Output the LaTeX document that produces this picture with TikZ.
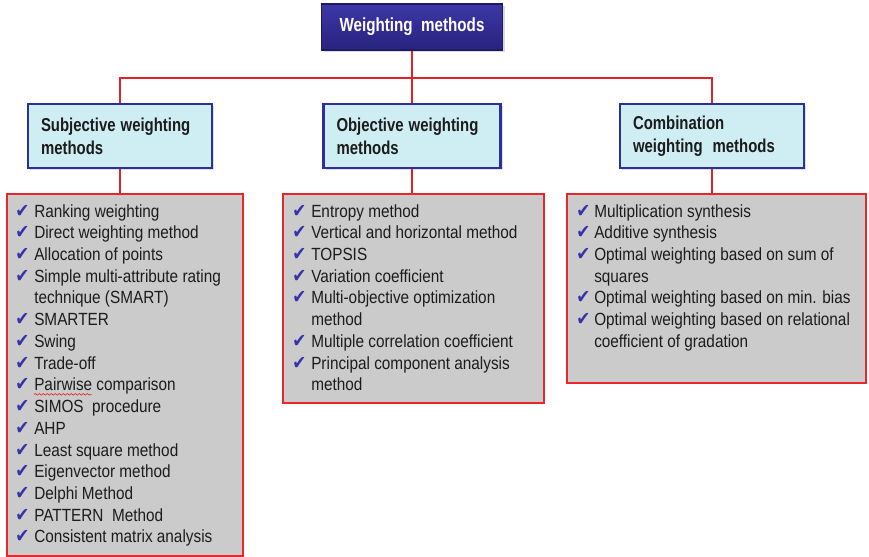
\documentclass[tikz,border=0pt]{standalone}
\usepackage{fontspec}
\usepackage{graphicx}
\setmainfont{Liberation Sans}
\newfontfamily\symfont{DejaVu Sans}
\usetikzlibrary{shadows,decorations.pathmorphing,calc}

\definecolor{titletop}{HTML}{3D37A6}
\definecolor{titlebot}{HTML}{28227F}
\definecolor{titleline}{HTML}{1E1A66}
\definecolor{headfill}{HTML}{CFEEF3}
\definecolor{headline}{HTML}{2C2F9C}
\definecolor{listfill}{HTML}{CBCBCB}
\definecolor{listline}{HTML}{E8262B}
\definecolor{linkred}{HTML}{E32228}
\definecolor{tickblue}{HTML}{3433A8}
\definecolor{bodytext}{HTML}{1C1C1C}

% taller letter shapes for the labels
\newcommand{\tallhead}[1]{\scalebox{1}[1.25]{#1}}
\newcommand{\tallbody}[1]{\scalebox{1}[1.15]{#1}}

\begin{document}
\begin{tikzpicture}[x=0.75pt,y=-0.75pt,
  title/.style={draw=titleline, line width=0.8pt, top color=titletop, bottom color=titlebot,
    text=white, font=\bfseries\fontsize{11.4}{14}\selectfont,
    minimum width=135.75pt, minimum height=34.5pt,
    drop shadow={opacity=0.3, shadow xshift=1.5pt, shadow yshift=-1.5pt}},
  head/.style={draw=headline, line width=2.2pt, fill=headfill, text=bodytext,
    font=\bfseries\fontsize{11.2}{17.25}\selectfont, align=left,
    inner xsep=9.75pt, minimum height=48pt,
    drop shadow={opacity=0.25, shadow xshift=1.5pt, shadow yshift=-1.5pt}},
  listbox/.style={draw=listline, line width=2pt, fill=listfill},
  link/.style={draw=linkred, line width=1.6pt},
  tick/.style={anchor=base west, inner sep=0pt, text=tickblue,
    font=\symfont\fontsize{12.5}{14}\selectfont},
  entry/.style={anchor=base west, inner sep=0pt, text=bodytext,
    font=\fontsize{11.5}{14}\selectfont}
]
\useasboundingbox (0,0) rectangle (869,557);

% top node
\node[title] (top) at (412,27) {\tallhead{Weighting\ \ methods}};

% category headers
\node[head, minimum width=138pt, text width=118.5pt] (subj) at (120,136)
  {\tallhead{Subjective weighting}\\\tallhead{methods}};
\node[head, minimum width=132.75pt, text width=113.25pt] (obj) at (412,136)
  {\tallhead{Objective weighting}\\\tallhead{methods}};
\node[head, minimum width=138pt, text width=118.5pt] (comb) at (712,136)
  {\tallhead{Combination}\\\tallhead{weighting\ \ methods}};

% list panels
\node[listbox, minimum width=177pt, minimum height=271.5pt] (subjlist) at (125,375) {};
\node[listbox, minimum width=195.75pt, minimum height=156.75pt] (objlist) at (413.5,298.5) {};
\node[listbox, minimum width=224.25pt, minimum height=141.75pt] (comblist) at (716.5,288.5) {};

% connectors
\coordinate (bus) at (412,78);
\draw[link] (top.south) -- (bus) -| (subj.north);
\draw[link] (bus) -| (comb.north);
\draw[link] (bus) -- (obj.north);
\draw[link] (subj.south) -- (subj.south |- subjlist.north);
\draw[link] (obj.south) -- (obj.south |- objlist.north);
\draw[link] (comb.south) -- (comb.south |- comblist.north);

% subjective methods
\foreach \c/\t [count=\i] in {
  1/Ranking weighting,
  1/Direct weighting method,
  1/Allocation of points,
  1/Simple multi-attribute rating,
  0/technique (SMART),
  1/SMARTER,
  1/Swing,
  1/Trade-off,
  1/Pairwise comparison,
  1/SIMOS\ \ procedure,
  1/AHP,
  1/Least square method,
  1/Eigenvector method,
  1/Delphi Method,
  1/PATTERN\ \ Method,
  1/Consistent matrix analysis}{
  \pgfmathsetmacro{\yy}{217+21.73*(\i-1)}
  \node[entry] (s\i) at (34,\yy) {\tallbody{\t}};
  \ifnum\c=1 \node[tick] (st\i) at (15,\yy) {\tallbody{✔}}; \fi
}
\draw[listline, line width=0.5pt, decorate,
  decoration={snake, amplitude=0.6pt, segment length=3pt}]
  ($(s9.base west)+(0,3.5)$) -- ++(58,0);

% objective methods
\foreach \c/\t [count=\i] in {
  1/Entropy method,
  1/Vertical and horizontal method,
  1/TOPSIS,
  1/Variation coefficient,
  1/Multi-objective optimization,
  0/method,
  1/Multiple correlation coefficient,
  1/Principal component analysis,
  0/method}{
  \pgfmathsetmacro{\yy}{217+21.73*(\i-1)}
  \node[entry] (o\i) at (311,\yy) {\tallbody{\t}};
  \ifnum\c=1 \node[tick] (ot\i) at (292,\yy) {\tallbody{✔}}; \fi
}

% combination methods
\foreach \c/\t [count=\i] in {
  1/Multiplication synthesis,
  1/Additive synthesis,
  1/Optimal weighting based on sum of,
  0/squares,
  1/Optimal weighting based on min. bias,
  1/Optimal weighting based on relational,
  0/coefficient of gradation}{
  \pgfmathsetmacro{\yy}{217+21.73*(\i-1)}
  \node[entry] (c\i) at (594,\yy) {\tallbody{\t}};
  \ifnum\c=1 \node[tick] (ct\i) at (576,\yy) {\tallbody{✔}}; \fi
}
\end{tikzpicture}
\end{document}
